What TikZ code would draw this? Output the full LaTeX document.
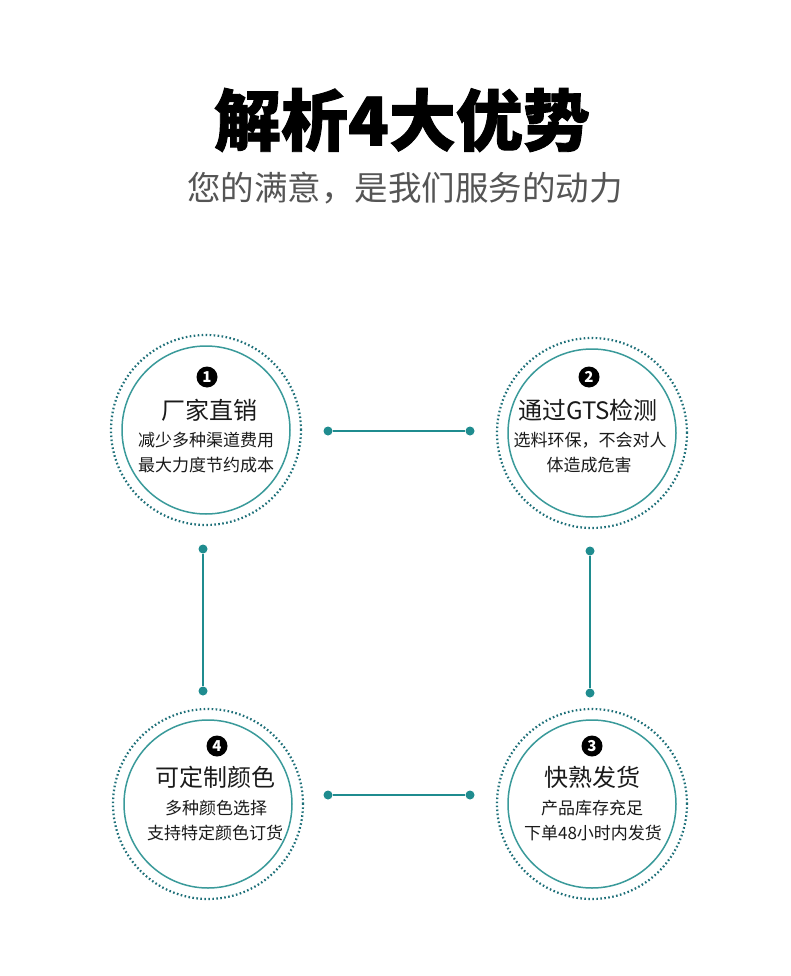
\documentclass[tikz,border=0pt]{standalone}
\usepackage{fontspec}
\newfontfamily\cjk{Noto Sans CJK SC}
\newfontfamily\cjkheavy{Noto Sans CJK SC}[BoldFeatures={FakeBold=1.3}]
\usetikzlibrary{positioning}
\definecolor{teal1}{HTML}{1F8C8F}
\definecolor{tealdot}{HTML}{1D6F78}
\definecolor{tealring}{HTML}{3A9A9A}
\definecolor{txt}{HTML}{1A1A1A}
\definecolor{subgray}{HTML}{555555}
\tikzset{
  ring/.style={circle,draw=tealring,line width=1.5pt,minimum size=168pt,inner sep=0pt},
  dotring/.style={circle,draw=tealdot,line width=2.2pt,dash pattern=on 1.6pt off 2.4pt,minimum size=190pt,inner sep=0pt},
  joint/.style={circle,fill=teal1,minimum size=9pt,inner sep=0pt},
  link/.style={draw=teal1,line width=2pt},
  numbadge/.style={circle,fill=black,text=white,minimum size=21pt,inner sep=0pt,font=\cjk\bfseries\fontsize{15}{15}\selectfont},
  headtxt/.style={text=txt,font=\cjk\fontsize{24}{24}\selectfont,inner sep=0pt},
  bodytxt/.style={text=txt,font=\cjk\fontsize{17}{17}\selectfont,inner sep=0pt},
}
\begin{document}
\begin{tikzpicture}[x=1pt,y=-1pt]
\useasboundingbox[fill=white] (0,0) rectangle (790,976);
% titles
\node[inner sep=0pt,text=black,font=\cjkheavy\bfseries\fontsize{67}{67}\selectfont] (title) at (402,120) {解析4大优势};
\node[inner sep=0pt,text=subgray,font=\cjk\fontsize{33.5}{33.5}\selectfont] (subtitle) at (405,188) {您的满意，是我们服务的动力};
% circles
\node[dotring] (o1) at (206,430) {};
\node[ring] (c1) at (206,430) {};
\node[dotring] (o2) at (592,433) {};
\node[ring] (c2) at (592,433) {};
\node[dotring] (o3) at (592,804) {};
\node[ring] (c3) at (592,804) {};
\node[dotring] (o4) at (208,804) {};
\node[ring] (c4) at (208,804) {};
% circle 1
\node[numbadge] (n1) at (207,377) {1};
\node[headtxt] (h1) at (209,410) {厂家直销};
\node[bodytxt] (a1) at (206,440) {减少多种渠道费用};
\node[bodytxt] (b1) at (206,465) {最大力度节约成本};
% circle 2
\node[numbadge] (n2) at (589,377) {2};
\node[headtxt] (h2) at (588,410) {通过GTS检测};
\node[bodytxt] (a2) at (590,440) {选料环保，不会对人};
\node[bodytxt] (b2) at (589,465) {体造成危害};
% circle 3
\node[numbadge] (n3) at (592,746) {3};
\node[headtxt] (h3) at (592,777) {快熟发货};
\node[bodytxt] (a3) at (592,808) {产品库存充足};
\node[bodytxt] (b3) at (593,833) {下单48小时内发货};
% circle 4
\node[numbadge] (n4) at (217,746) {4};
\node[headtxt] (h4) at (215,777) {可定制颜色};
\node[bodytxt] (a4) at (216,808) {多种颜色选择};
\node[bodytxt] (b4) at (215,833) {支持特定颜色订货};
% connectors
\node[joint] (t1) at (328,431) {};
\node[joint] (t2) at (470,431) {};
\node[joint] (l1) at (203,549) {};
\node[joint] (l2) at (203,691) {};
\node[joint] (r1) at (590,551) {};
\node[joint] (r2) at (590,693) {};
\node[joint] (m1) at (328,795) {};
\node[joint] (m2) at (470,795) {};
\path[link] (t1) -- (t2);
\path[link] (l1) -- (l2);
\path[link] (r1) -- (r2);
\path[link] (m1) -- (m2);
\end{tikzpicture}
\end{document}
